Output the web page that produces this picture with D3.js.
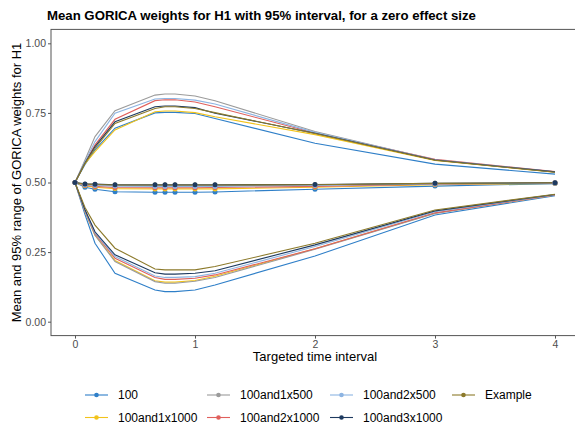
<!DOCTYPE html>
<html>
<head>
<meta charset="utf-8">
<script src="https://cdn.jsdelivr.net/npm/d3@7"></script>
<style>
  body { margin: 0; background: #fff; }
  text { font-family: "Liberation Sans", Arial, sans-serif; }
</style>
</head>
<body>
<div id="chart"></div>
<script>
var width = 575
var height = 428

// targeted time intervals (in years)
var times = [0, 1/12, 2/12, 4/12, 8/12, 9/12, 10/12, 1, 14/12, 2, 3, 4]

var series = ["100", "100and1x1000", "100and1x500", "100and2x1000", "100and2x500", "100and3x1000", "Example"]
var colors = ["#2f7fc8", "#f2c31b", "#9b9b9b", "#e0605c", "#8db4e2", "#1e3a5f", "#8c7a2b"]

// mean GORICA weight per series
var mean100   = [0.5, 0.483, 0.476, 0.467, 0.465, 0.465, 0.465, 0.465, 0.466, 0.476, 0.487, 0.496]
var mean1x1000 = [0.5, 0.488, 0.483, 0.478, 0.477, 0.477, 0.477, 0.477, 0.477, 0.483, 0.492, 0.497]
var mean1x500 = [0.5, 0.493, 0.491, 0.489, 0.489, 0.489, 0.489, 0.489, 0.489, 0.491, 0.496, 0.499]
var mean2x1000 = [0.5, 0.49, 0.486, 0.482, 0.481, 0.481, 0.481, 0.481, 0.482, 0.486, 0.494, 0.498]
var mean2x500 = [0.5, 0.492, 0.489, 0.487, 0.486, 0.486, 0.486, 0.486, 0.486, 0.489, 0.495, 0.498]
var mean3x1000 = [0.5, 0.495, 0.494, 0.492, 0.492, 0.492, 0.492, 0.492, 0.492, 0.493, 0.497, 0.499]
var meanExample = [0.5, 0.494, 0.493, 0.491, 0.491, 0.491, 0.491, 0.491, 0.491, 0.492, 0.497, 0.499]

// upper bound of the 95% interval
var upper100   = [0.5, 0.565, 0.617, 0.695, 0.75, 0.752, 0.752, 0.748, 0.73, 0.641, 0.566, 0.53]
var upper1x1000 = [0.5, 0.568, 0.611, 0.689, 0.754, 0.757, 0.757, 0.751, 0.736, 0.672, 0.579, 0.537]
var upper1x500 = [0.5, 0.581, 0.665, 0.758, 0.814, 0.818, 0.818, 0.811, 0.794, 0.683, 0.582, 0.538]
var upper2x1000 = [0.5, 0.572, 0.635, 0.727, 0.794, 0.797, 0.797, 0.789, 0.772, 0.678, 0.583, 0.539]
var upper2x500 = [0.5, 0.575, 0.647, 0.749, 0.8, 0.802, 0.802, 0.796, 0.782, 0.68, 0.582, 0.538]
var upper3x1000 = [0.5, 0.57, 0.629, 0.718, 0.772, 0.775, 0.775, 0.769, 0.749, 0.677, 0.581, 0.538]
var upperExample = [0.5, 0.569, 0.623, 0.712, 0.766, 0.772, 0.772, 0.766, 0.751, 0.676, 0.58, 0.537]

// lower bound of the 95% interval
var lower100   = [0.5, 0.385, 0.282, 0.174, 0.114, 0.108, 0.108, 0.114, 0.132, 0.236, 0.383, 0.453]
var lower1x1000 = [0.5, 0.395, 0.311, 0.22, 0.147, 0.142, 0.142, 0.148, 0.163, 0.262, 0.39, 0.455]
var lower1x500 = [0.5, 0.395, 0.311, 0.216, 0.144, 0.138, 0.138, 0.145, 0.159, 0.26, 0.389, 0.455]
var lower2x1000 = [0.5, 0.398, 0.317, 0.228, 0.159, 0.152, 0.152, 0.156, 0.168, 0.262, 0.391, 0.455]
var lower2x500 = [0.5, 0.4, 0.32, 0.234, 0.164, 0.159, 0.159, 0.162, 0.174, 0.27, 0.395, 0.456]
var lower3x1000 = [0.5, 0.402, 0.323, 0.24, 0.176, 0.171, 0.171, 0.174, 0.183, 0.276, 0.398, 0.457]
var lowerExample = [0.5, 0.41, 0.347, 0.264, 0.189, 0.186, 0.186, 0.186, 0.198, 0.282, 0.401, 0.458]

var yTicks = [0, 0.25, 0.5, 0.75, 1]
var xTicks = [0, 1, 2, 3, 4]

var means = [mean100, mean1x1000, mean1x500, mean2x1000, mean2x500, mean3x1000, meanExample]
var uppers = [upper100, upper1x1000, upper1x500, upper2x1000, upper2x500, upper3x1000, upperExample]
var lowers = [lower100, lower1x1000, lower1x500, lower2x1000, lower2x500, lower3x1000, lowerExample]

// panel edges (right edge falls outside the picture, like the reference)
var pLeft = 51, pRight = 579, pTop = 29.4, pBottom = 335.6

var svg = d3.select("#chart")
    .append("svg")
    .attr("width", width)
    .attr("height", height)

var xScale = d3.scaleLinear().domain([-0.2, 4.2]).range([pLeft, pRight])
var yScale = d3.scaleLinear().domain([-0.05, 1.05]).range([pBottom, pTop])

// title
svg.append("text")
    .attr("x", 47)
    .attr("y", 20)
    .attr("font-size", 13.2)
    .attr("font-weight", "bold")
    .attr("fill", "#000")
    .text("Mean GORICA weights for H1 with 95% interval, for a zero effect size")

// panel border
svg.append("rect")
    .attr("x", pLeft)
    .attr("y", pTop)
    .attr("width", pRight - pLeft)
    .attr("height", pBottom - pTop)
    .attr("fill", "none")
    .attr("stroke", "#555")
    .attr("stroke-width", 1)

var xAxis = svg.append("g")
    .attr("transform", `translate(0,${pBottom})`)
    .call(d3.axisBottom(xScale).tickValues(xTicks).tickSize(3).tickPadding(2).tickFormat(d3.format("d")))
var yAxis = svg.append("g")
    .attr("transform", `translate(${pLeft},0)`)
    .call(d3.axisLeft(yScale).tickValues(yTicks).tickSize(3).tickPadding(2).tickFormat(d3.format(".2f")))

svg.selectAll(".domain").remove()
svg.selectAll(".tick line").attr("stroke", "#555")
svg.selectAll(".tick text")
    .attr("fill", "#4d4d4d")
    .attr("font-size", 10.5)
    .style("font-family", "Liberation Sans, Arial, sans-serif")

// axis titles
svg.append("text")
    .attr("x", (pLeft + pRight) / 2)
    .attr("y", 361)
    .attr("text-anchor", "middle")
    .attr("font-size", 13)
    .text("Targeted time interval")

svg.append("text")
    .attr("transform", `translate(21,${(pTop + pBottom) / 2}) rotate(-90)`)
    .attr("text-anchor", "middle")
    .attr("font-size", 13)
    .text("Mean and 95% range of GORICA weights for H1")

var line = d3.line()
    .x(function (d, i) { return xScale(times[i]) })
    .y(function (d) { return yScale(d) })

var plot = svg.append("g")

// draw lines per layer like ggplot: upper, lower, mean, then points
var layers = [uppers, lowers, means]
layers.forEach(function (layer) {
    layer.forEach(function (vals, s) {
        plot.append("path")
            .attr("d", line(vals))
            .attr("fill", "none")
            .attr("stroke", colors[s])
            .attr("stroke-width", 1.1)
    })
})

// points: the dark navy ones end up on top in the reference
var pointOrder = [6, 0, 1, 2, 3, 4, 5]
pointOrder.forEach(function (s) {
    plot.selectAll(".pt" + s)
        .data(means[s])
        .enter()
        .append("circle")
        .attr("class", "pt" + s)
        .attr("cx", function (d, i) { return xScale(times[i]) })
        .attr("cy", function (d) { return yScale(d) })
        .attr("r", 2.5)
        .attr("fill", colors[s])
})

// legend, filled column-wise in two rows
var legendX = [85, 207, 330, 452]
var legendY = [395, 417.5]

var legend = svg.selectAll(".legend")
    .data(series)
    .enter()
    .append("g")
    .attr("transform", function (d, i) {
        return `translate(${legendX[Math.floor(i / 2)]},${legendY[i % 2]})`
    })

legend.append("line")
    .attr("x1", 0).attr("x2", 23)
    .attr("y1", 0).attr("y2", 0)
    .attr("stroke", function (d, i) { return colors[i] })
    .attr("stroke-width", 1.1)
legend.append("circle")
    .attr("cx", 11.5).attr("cy", 0).attr("r", 2.3)
    .attr("fill", function (d, i) { return colors[i] })
legend.append("text")
    .attr("x", 33)
    .attr("y", 4.3)
    .attr("font-size", 12)
    .attr("fill", "#000")
    .text(function (d) { return d })
</script>
</body>
</html>
